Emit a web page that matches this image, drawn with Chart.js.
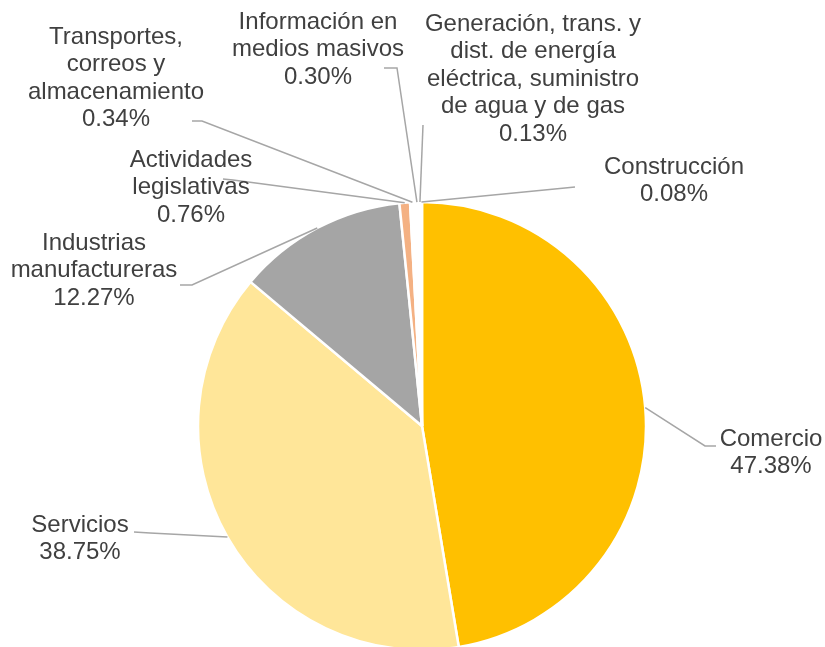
<!DOCTYPE html>
<html>
<head>
<meta charset="utf-8">
<script src="https://cdn.jsdelivr.net/npm/chart.js@4"></script>
<style>
  body { margin: 0; background: #fff; }
  #wrap { width: 825px; height: 647px; position: relative; }
</style>
</head>
<body>
<div id="wrap"><canvas id="pieChart" width="825" height="647"></canvas></div>
<script>
const categories = [
  'Comercio',
  'Servicios',
  'Industrias manufactureras',
  'Actividades legislativas',
  'Transportes, correos y almacenamiento',
  'Información en medios masivos',
  'Generación, trans. y dist. de energía eléctrica, suministro de agua y de gas',
  'Construcción',
];
const shares = [47.38, 38.75, 12.27, 0.76, 0.34, 0.30, 0.13, 0.08];

// how each category name is wrapped in its label
const labelLines = [
  ['Comercio'],
  ['Servicios'],
  ['Industrias', 'manufactureras'],
  ['Actividades', 'legislativas'],
  ['Transportes,', 'correos y', 'almacenamiento'],
  ['Información en', 'medios masivos'],
  ['Generación, trans. y', 'dist. de energía', 'eléctrica, suministro', 'de agua y de gas'],
  ['Construcción'],
];

const sliceColors = ['#FFC000', '#FFE699', '#A5A5A5', '#F4B183', '#FFFFFF', '#FFFFFF', '#FFFFFF', '#FFFFFF'];

// label placement: text centre x, first line centre y, leader elbow and end
const labelLayout = [
  { x: 771, y: 439, elbow: [705, 446], end: [716, 446] },
  { x: 80, y: 525, elbow: [150, 533], end: [134, 532] },
  { x: 94, y: 243, elbow: [192, 285], end: [180, 285] },
  { x: 191, y: 160, elbow: [233, 180], end: [223, 179] },
  { x: 116, y: 37, elbow: [202, 121], end: [192, 121] },
  { x: 318, y: 22, elbow: [397, 68], end: [384, 68] },
  { x: 533, y: 24, elbow: [423, 125], end: [423, 125] },
  { x: 674, y: 167, elbow: [565, 188], end: [575, 187] },
];

const lineHeight = 27.5;

const pieLabels = {
  id: 'pieLabels',
  afterDatasetsDraw(chart) {
    const ctx = chart.ctx;
    const arcs = chart.getDatasetMeta(0).data;
    ctx.save();
    arcs.forEach((arc, i) => {
      const p = arc.getProps(['x', 'y', 'startAngle', 'endAngle', 'outerRadius'], true);
      const mid = (p.startAngle + p.endAngle) / 2;
      const ax = p.x + Math.cos(mid) * p.outerRadius;
      const ay = p.y + Math.sin(mid) * p.outerRadius;
      const lay = labelLayout[i];
      ctx.strokeStyle = '#A6A6A6';
      ctx.lineWidth = 1.5;
      ctx.beginPath();
      ctx.moveTo(ax, ay);
      ctx.lineTo(lay.elbow[0], lay.elbow[1]);
      ctx.lineTo(lay.end[0], lay.end[1]);
      ctx.stroke();
    });
    ctx.fillStyle = '#404040';
    ctx.font = '24px "Liberation Sans", Arial, sans-serif';
    ctx.textAlign = 'center';
    ctx.textBaseline = 'middle';
    arcs.forEach((arc, i) => {
      const lay = labelLayout[i];
      const lines = labelLines[i].concat([shares[i].toFixed(2) + '%']);
      lines.forEach((t, k) => {
        ctx.fillText(t, lay.x, lay.y + k * lineHeight);
      });
    });
    ctx.restore();
  },
};

new Chart(document.getElementById('pieChart'), {
  type: 'pie',
  data: {
    labels: categories,
    datasets: [
      {
        data: shares,
        backgroundColor: sliceColors,
        borderColor: '#FFFFFF',
        borderWidth: 2.5,
        radius: 224,
      },
    ],
  },
  options: {
    responsive: false,
    animation: false,
    layout: { padding: { left: 19, right: 0, top: 205, bottom: 0 } },
    plugins: {
      legend: { display: false },
      tooltip: { enabled: false },
    },
  },
  plugins: [pieLabels],
});
</script>
</body>
</html>
